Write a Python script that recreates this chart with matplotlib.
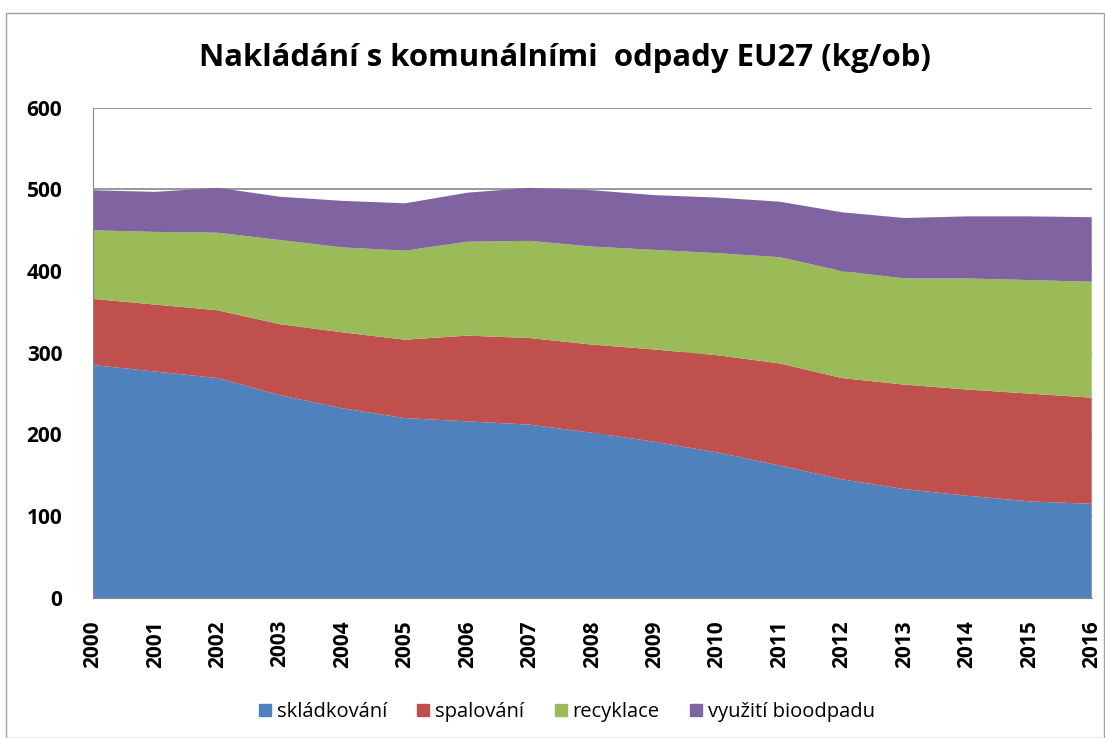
import matplotlib.pyplot as plt
import matplotlib.patches as mpatches

years = list(range(2000, 2017))

# kg na obyvatele
skladkovani = [285, 277, 269, 248, 232, 220, 216, 212, 202, 191, 178, 162, 145, 133, 125, 118, 115]
spalovani = [81, 82, 83, 87, 93, 96, 105, 106, 108, 113, 119, 125, 124, 128, 130, 132, 130]
recyklace = [84, 89, 95, 103, 104, 109, 115, 119, 120, 122, 125, 130, 131, 130, 136, 139, 142]
bioodpad = [49, 49, 55, 53, 57, 58, 60, 65, 69, 67, 68, 68, 72, 74, 76, 78, 79]

labels = ["skládkování", "spalování", "recyklace", "využití bioodpadu"]
colors = ["#4F81BD", "#C0504D", "#9BBB59", "#8064A2"]

plt.rcParams['font.family'] = ['Open Sans', 'DejaVu Sans']

fig = plt.figure(figsize=(11.05, 7.38), dpi=100)
ax = fig.add_axes([0.084, 0.19, 0.904, 0.664])

ax.stackplot(years, skladkovani, spalovani, recyklace, bioodpad,
             colors=colors, labels=labels, edgecolor='none', zorder=2)

ax.set_xlim(2000, 2016)
ax.set_ylim(0, 600)
ax.set_yticks(range(0, 601, 100))
ax.set_xticks(years)
ax.set_xticklabels([str(y) for y in years], rotation=90, fontsize=15, fontweight='bold')
for t in ax.get_yticklabels():
    t.set_fontsize(15)
    t.set_fontweight('bold')
ax.tick_params(axis='y', length=0, pad=22)
ax.tick_params(axis='x', length=0, pad=16)

ax.yaxis.grid(True, color='#868686', linewidth=1.2, zorder=1)
for s in ['top', 'right']:
    ax.spines[s].set_visible(False)
ax.spines['left'].set_color('#868686')
ax.spines['bottom'].set_color('#868686')

fig.text(0.511, 0.922, "Nakládání s komunálními  odpady EU27 (kg/ob)",
         ha='center', va='center', fontsize=22.4, fontweight='bold')

handles = [mpatches.Patch(color=c, label=l) for c, l in zip(colors, labels)]
fig.legend(handles=handles, loc='center', bbox_to_anchor=(0.513, 0.035), ncol=4,
           frameon=False, fontsize=14.5, handlelength=0.6, handleheight=0.6,
           handletextpad=0.3, columnspacing=1.5)

# rámeček kolem grafu
fig.patches.append(mpatches.Rectangle((0.005, 0.0), 0.994, 0.982, transform=fig.transFigure,
                                      fill=False, edgecolor='#a0a0a0', linewidth=1))

fig.savefig("out.png", dpi=100)
